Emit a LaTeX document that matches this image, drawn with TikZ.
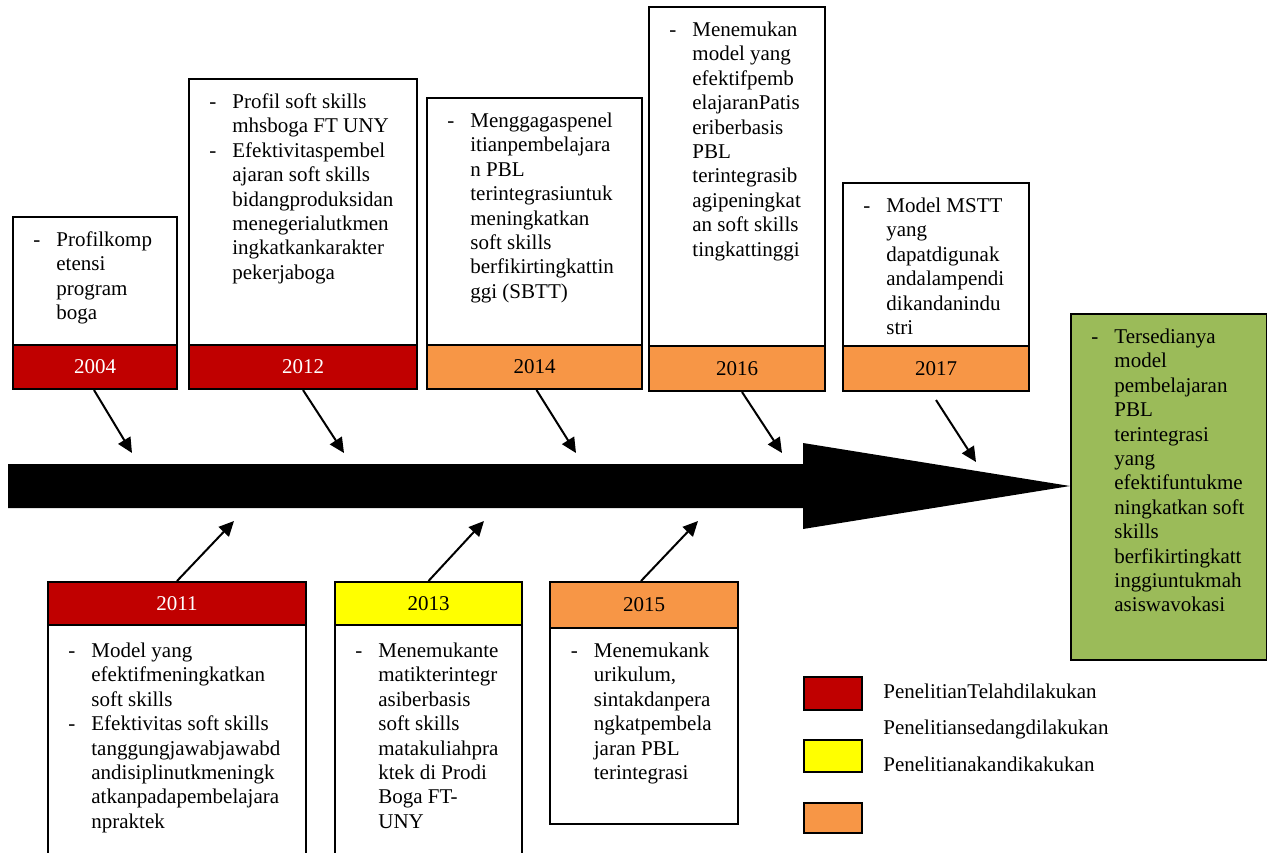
\documentclass[tikz,border=0pt]{standalone}
\usepackage{fontspec}
\setmainfont{Liberation Serif}
\usetikzlibrary{arrows.meta}

\definecolor{tlred}{HTML}{C00000}
\definecolor{tlorange}{HTML}{F79646}
\definecolor{tlyellow}{HTML}{FFFF00}
\definecolor{tlgreen}{HTML}{9BBB59}

\newcommand{\entries}[1]{\begin{tabular}{@{}p{11.5pt}@{}l@{}}#1\end{tabular}}

\begin{document}
\begin{tikzpicture}[x=0.5pt, y=-0.5pt,
  every node/.style={font=\fontsize{10.5}{12.2}\selectfont},
  box/.style={draw, line width=1pt, inner sep=0pt, fill=white, anchor=north west},
  band/.style={box, minimum height=22pt},
  list/.style={anchor=north west, inner sep=0pt, align=left},
  arr/.style={-{Triangle[length=7.5pt,width=7pt]}, line width=1pt}]

        \useasboundingbox (0,0) rectangle (1267,852);
        \clip (0,0) rectangle (1267,852);

        % Time line
        \fill (8,464) -- (803,464) -- (803,443) -- (1070,486) -- (803,529) -- (803,508) -- (8,508) -- cycle;

        % 2004
        \node[box, minimum width=82pt, minimum height=64pt] (c2004) at (12,216) {};
        \node[band, fill=tlred, text=white, minimum width=82pt] (b2004) at (12,344) {2004};
        \node[list] (l2004) at (33,229) {\entries{- & Profilkomp\\ & etensi\\ & program\\ & boga}};

        % 2012
        \node[box, minimum width=114pt, minimum height=133pt] (c2012) at (188,78) {};
        \node[band, fill=tlred, text=white, minimum width=114pt] (b2012) at (188,344) {2012};
        \node[list] (l2012) at (209,91) {\entries{- & Profil soft skills\\ & mhsboga FT UNY\\ - & Efektivitaspembel\\ & ajaran soft skills\\ & bidangproduksidan\\ & menegerialutkmen\\ & ingkatkankarakter\\ & pekerjaboga}};

        % 2014
        \node[box, minimum width=107.5pt, minimum height=123.5pt] (c2014) at (426,97) {};
        \node[band, fill=tlorange, minimum width=107.5pt] (b2014) at (426,344) {2014};
        \node[list] (l2014) at (447,110) {\entries{- & Menggagaspenel\\ & itianpembelajara\\ & n PBL\\ & terintegrasiuntuk\\ & meningkatkan\\ & soft skills\\ & berfikirtingkattin\\ & ggi (SBTT)}};

        % 2016
        \node[box, minimum width=88pt, minimum height=169.5pt] (c2016) at (648,6) {};
        \node[band, fill=tlorange, minimum width=88pt, minimum height=22.5pt] (b2016) at (648,345) {2016};
        \node[list] (l2016) at (669,19) {\entries{- & Menemukan\\ & model yang\\ & efektifpemb\\ & elajaranPatis\\ & eriberbasis\\ & PBL\\ & terintegrasib\\ & agipeningkat\\ & an soft skills\\ & tingkattinggi}};

        % 2017
        \node[box, minimum width=93pt, minimum height=81.5pt] (c2017) at (842,182) {};
        \node[band, fill=tlorange, minimum width=93pt, minimum height=22.5pt] (b2017) at (842,345) {2017};
        \node[list] (l2017) at (863,195) {\entries{- & Model MSTT\\ & yang\\ & dapatdigunak\\ & andalampendi\\ & dikandanindu\\ & stri}};

        % Goal
        \node[box, fill=tlgreen, minimum width=98pt, minimum height=173pt] (goal) at (1070,313) {};
        \node[list] (lgoal) at (1091,326) {\entries{- & Tersedianya\\ & model\\ & pembelajaran\\ & PBL\\ & terintegrasi\\ & yang\\ & efektifuntukme\\ & ningkatkan soft\\ & skills\\ & berfikirtingkatt\\ & inggiuntukmah\\ & asiswavokasi}};

        % 2011
        \node[band, fill=tlred, text=white, minimum width=129pt, minimum height=21.5pt] (b2011) at (47,581) {2011};
        \node[box, minimum width=129pt, minimum height=120pt] (c2011) at (47,624) {};
        \node[list] (l2011) at (68,640) {\entries{- & Model yang\\ & efektifmeningkatkan\\ & soft skills\\ - & Efektivitas soft skills\\ & tanggungjawabjawabd\\ & andisiplinutkmeningk\\ & atkanpadapembelajara\\ & npraktek}};

        % 2013
        \node[band, fill=tlyellow, minimum width=93.5pt, minimum height=21.5pt] (b2013) at (334,581) {2013};
        \node[box, minimum width=93.5pt, minimum height=120pt] (c2013) at (334,624) {};
        \node[list] (l2013) at (355,640) {\entries{- & Menemukante\\ & matikterintegr\\ & asiberbasis\\ & soft skills\\ & matakuliahpra\\ & ktek di Prodi\\ & Boga FT-\\ & UNY}};

        % 2015
        \node[band, fill=tlorange, minimum width=94pt, minimum height=23pt] (b2015) at (549,581) {2015};
        \node[box, minimum width=94pt, minimum height=98pt] (c2015) at (549,627) {};
        \node[list] (l2015) at (570.5,640) {\entries{- & Menemukank\\ & urikulum,\\ & sintakdanpera\\ & ngkatpembela\\ & jaran PBL\\ & terintegrasi}};

        % Arrows
        \coordinate (e2004) at (132,453);
        \coordinate (e2012) at (344,453);
        \coordinate (e2014) at (576,453);
        \coordinate (e2016) at (782,453);
        \coordinate (e2017) at (976,462);
        \coordinate (e2011) at (234,521);
        \coordinate (e2013) at (484,521);
        \coordinate (e2015) at (698,521);

        \draw[arr] ([xshift=-0.5pt]b2004.south) -- (e2004);
        \draw[arr] (b2012.south) -- (e2012);
        \draw[arr] ([xshift=1pt]b2014.south) -- (e2014);
        \draw[arr] ([xshift=2.5pt]b2016.south) -- (e2016);
        \draw[arr] ([yshift=-4pt]b2017.south) -- (e2017);
        \draw[arr] (b2011.north) -- (e2011);
        \draw[arr] (b2013.north) -- (e2013);
        \draw[arr] ([xshift=-1.5pt]b2015.north) -- (e2015);

        % Legend
        \node[box, fill=tlred, minimum width=29pt, minimum height=16.5pt] (k1) at (803,676) {};
        \node[box, fill=tlyellow, minimum width=29pt, minimum height=16pt] (k2) at (803,739) {};
        \node[box, fill=tlorange, minimum width=29pt, minimum height=15pt] (k3) at (803,802) {};
        \node[anchor=base west, inner sep=0pt] (t1) at (883,698) {PenelitianTelahdilakukan};
        \node[anchor=base west, inner sep=0pt] (t2) at (883,734) {Penelitiansedangdilakukan};
        \node[anchor=base west, inner sep=0pt] (t3) at (883,771) {Penelitianakandikakukan};

\end{tikzpicture}
\end{document}
